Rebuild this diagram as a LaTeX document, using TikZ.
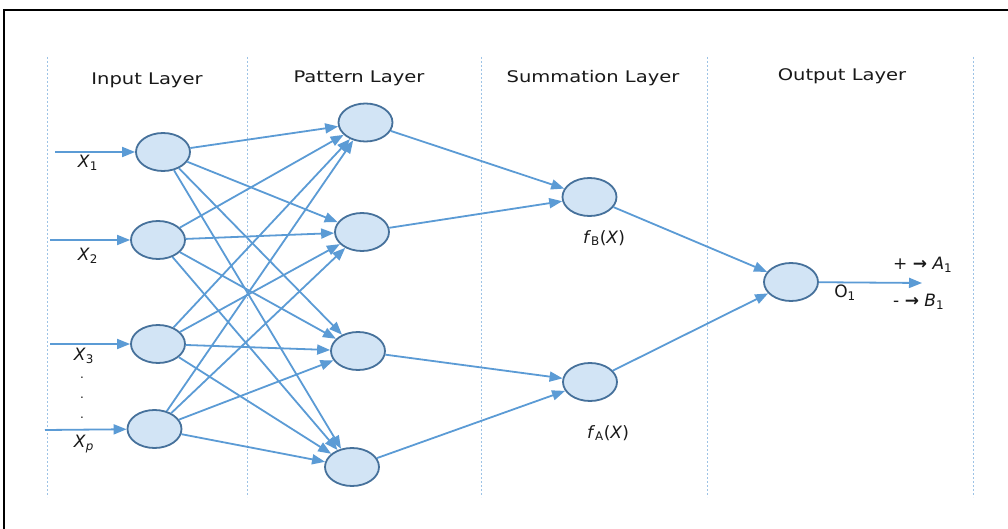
\documentclass[tikz,border=0pt]{standalone}
\usepackage{fontspec}
\setmainfont{DejaVu Sans}
\usetikzlibrary{shapes.geometric,arrows.meta}
\definecolor{lineblue}{HTML}{5B9BD5}
\definecolor{nodefill}{HTML}{D2E4F5}
\definecolor{nodedraw}{HTML}{46719B}
\definecolor{sepblue}{HTML}{9DC3E6}
\tikzset{
  neuron/.style={ellipse,minimum width=54pt,minimum height=38pt,inner sep=0pt,
    fill=nodefill,draw=nodedraw,line width=1.8pt},
  conn/.style={draw=lineblue,line width=1.8pt,-{Triangle[length=13pt,width=10pt]}},
  sep/.style={draw=sepblue,line width=1pt,dash pattern=on 2pt off 2pt},
  header/.style={font=\fontsize{16}{19}\selectfont,text=black!90,inner sep=0pt},
  lab/.style={font=\fontsize{17}{19}\selectfont,text=black!90,inner sep=0pt},
  dotlab/.style={font=\fontsize{12}{12}\selectfont,text=black!90,inner sep=0pt},
}
\newcommand{\hdr}[1]{\scalebox{1.22}[1]{#1}}
\begin{document}
\begin{tikzpicture}[x=1pt,y=-1pt]
\useasboundingbox (0,0) rectangle (1008,529);
\fill[white] (0,0) rectangle (1008,529);
% frame
\draw[black,line width=1.4pt] (4,529) -- (4,10) -- (1010,10);
% separators
\foreach \xx in {47,247,481,707,973}
  \draw[sep] (\xx,57) -- (\xx,497);
% headers
\node[header] (h1) at (147,80) {\hdr{Input Layer}};
\node[header] (h2) at (359,78) {\hdr{Pattern Layer}};
\node[header] (h3) at (593,78) {\hdr{Summation Layer}};
\node[header] (h4) at (842,76) {\hdr{Output Layer}};
% input nodes
\node[neuron] (i1) at (163,152) {};
\node[neuron] (i2) at (158,240) {};
\node[neuron] (i3) at (158,344) {};
\node[neuron] (i4) at (154.5,429) {};
% pattern nodes
\node[neuron] (p1) at (365.5,122.5) {};
\node[neuron] (p2) at (362,232) {};
\node[neuron] (p3) at (358,351) {};
\node[neuron] (p4) at (352,467) {};
% summation nodes
\node[neuron] (sb) at (589.5,197) {};
\node[neuron] (sa) at (590,382) {};
% output node
\node[neuron] (o) at (791,282) {};
% input arrows
\coordinate (x1s) at (55,152);
\coordinate (x2s) at (50,240);
\coordinate (x3s) at (50,344);
\coordinate (x4s) at (45,430);
\draw[conn] (x1s) -- (i1);
\draw[conn] (x2s) -- (i2);
\draw[conn] (x3s) -- (i3);
\draw[conn] (x4s) -- (i4);
% input labels
\node[lab] (lx1) at (88,163) {\textit{X}\textsubscript{1}};
\node[lab] (lx2) at (88,256) {\textit{X}\textsubscript{2}};
\node[lab] (lx3) at (84,356) {\textit{X}\textsubscript{3}};
\node[lab] (lxp) at (84,444) {\textit{X}\textsubscript{\textit{p}}};
\node[dotlab] (d1) at (82,378) {.};
\node[dotlab] (d2) at (82,398) {.};
\node[dotlab] (d3) at (82,418) {.};
% input to pattern
\foreach \i in {1,2,3,4}
  \foreach \j in {1,2,3,4}
    \draw[conn] (i\i) -- (p\j);
% pattern to summation
\draw[conn] (p1) -- (sb);
\draw[conn] (p2) -- (sb);
\draw[conn] (p3) -- (sa);
\draw[conn] (p4) -- (sa);
% summation to output
\draw[conn] (sb) -- (o);
\draw[conn] (sa) -- (o);
% output arrow
\coordinate (oe) at (922,283);
\draw[conn] (o) -- (oe);
% labels
\node[lab] (lfb) at (604,238) {\textit{f}\textsubscript{B}(\textit{X})};
\node[lab] (lfa) at (608,433) {\textit{f}\textsubscript{A}(\textit{X})};
\node[lab] (lo) at (845,293) {O\textsubscript{1}};
\node[lab,anchor=west] (la) at (893,265) {+ \textbf{→} \textit{A}\textsubscript{1}};
\node[lab,anchor=west] (lb) at (893,302) {- \textbf{→} \textit{B}\textsubscript{1}};
\end{tikzpicture}
\end{document}
